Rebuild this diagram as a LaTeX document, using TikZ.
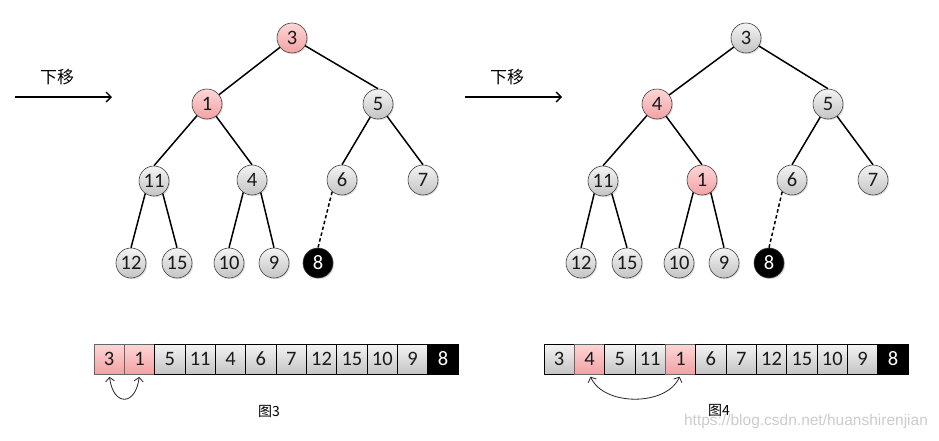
\documentclass[tikz,border=0pt]{standalone}
\usepackage{fontspec}
\setmainfont{Carlito}
\newfontfamily\cjk{Noto Sans CJK SC}
\newfontfamily\wmfont{Liberation Sans}
\usetikzlibrary{shadows,arrows.meta}
\definecolor{gtop}{HTML}{F4F4F4}
\definecolor{gbot}{HTML}{C4C4C4}
\definecolor{ptop}{HTML}{FFD6D6}
\definecolor{pbot}{HTML}{F2A2A4}
\definecolor{txt}{HTML}{1A1A1A}
\begin{document}
\begin{tikzpicture}[x=1pt,y=-1pt,
  base/.style={circle,draw=black!75,line width=0.6pt,minimum size=30pt,inner sep=0pt,
    text=txt,font=\fontsize{20.5}{20.5}\selectfont,
    drop shadow={shadow xshift=1.2pt,shadow yshift=-1.2pt,opacity=0.25}},
  gnode/.style={base,top color=gtop,bottom color=gbot},
  pnode/.style={base,top color=ptop,bottom color=pbot},
  bnode/.style={base,fill=black,text=white},
  edge/.style={line width=1.5pt,black},
  dedge/.style={edge,dash pattern=on 3.5pt off 2.5pt},
  cellbase/.style={rectangle,draw=black,line width=0.8pt,minimum width=30.35pt,minimum height=30pt,
    inner sep=0pt,text=txt,font=\fontsize{20.5}{20.5}\selectfont,
    drop shadow={shadow xshift=1pt,shadow yshift=-1pt,opacity=0.25}},
  gcell/.style={cellbase,top color=gtop,bottom color=gbot},
  pcell/.style={cellbase,draw=black!60,top color=ptop,bottom color=pbot},
  bcell/.style={cellbase,fill=black,text=white},
  swaparrow/.style={line width=0.8pt,black!85,{Straight Barb[length=4pt,width=9pt]}-{Straight Barb[length=4pt,width=9pt]},
    shorten <=2.5pt,shorten >=2.5pt},
  movearrow/.style={line width=1.3pt,black,-{Straight Barb[length=5pt,width=10pt]}},
  movelab/.style={font=\cjk\fontsize{17}{17}\selectfont,text=black},
  figcap/.style={font=\cjk\fontsize{14}{14}\selectfont,text=black}
]
\useasboundingbox (0,0) rectangle (939,440);
\fill[white] (0,0) rectangle (939,440);

% ---------- left tree ----------
\node[pnode] (a1) at (292,38) {3};
\node[pnode] (a2) at (207,104) {1};
\node[gnode] (a3) at (378,104) {5};
\node[gnode] (a4) at (154,181) {11};
\node[gnode] (a5) at (252,180) {4};
\node[gnode] (a6) at (342,180) {6};
\node[gnode] (a7) at (423,180) {7};
\node[gnode] (a8) at (131,263) {12};
\node[gnode] (a9) at (177,263) {15};
\node[gnode] (a10) at (229,263) {10};
\node[gnode] (a11) at (274,263) {9};
\node[bnode] (a12) at (318,263) {8};
\draw[edge] (a1) -- (a2);
\draw[edge] (a1) -- (a3.north);
\draw[edge] (a2) -- (a4.north);
\draw[edge] (a2) -- (a5.north);
\draw[edge] (a3) -- (a6.north);
\draw[edge] (a3) -- (a7.north);
\draw[edge] (a4.235) -- (a8.north);
\draw[edge] (a4.305) -- (a9.north);
\draw[edge] (a5.235) -- (a10.north);
\draw[edge] (a5.305) -- (a11.north);
\draw[dedge] (a6.230) -- (a12.north);

% ---------- right tree ----------
\node[gnode] (b1) at (746,38) {3};
\node[pnode] (b2) at (657,104) {4};
\node[gnode] (b3) at (828,104) {5};
\node[gnode] (b4) at (603,181) {11};
\node[pnode] (b5) at (702,180) {1};
\node[gnode] (b6) at (792,180) {6};
\node[gnode] (b7) at (873,180) {7};
\node[gnode] (b8) at (581,263) {12};
\node[gnode] (b9) at (627,263) {15};
\node[gnode] (b10) at (679,263) {10};
\node[gnode] (b11) at (724,263) {9};
\node[bnode] (b12) at (769,263) {8};
\draw[edge] (b1) -- (b2);
\draw[edge] (b1) -- (b3.north);
\draw[edge] (b2) -- (b4.north);
\draw[edge] (b2) -- (b5.north);
\draw[edge] (b3) -- (b6.north);
\draw[edge] (b3) -- (b7.north);
\draw[edge] (b4.235) -- (b8.north);
\draw[edge] (b4.305) -- (b9.north);
\draw[edge] (b5.235) -- (b10.north);
\draw[edge] (b5.305) -- (b11.north);
\draw[dedge] (b6.230) -- (b12.north);

% ---------- move arrows ----------
\coordinate (s1) at (15,97);
\coordinate (e1) at (112,97);
\coordinate (s2) at (465,97);
\coordinate (e2) at (562,97);
\draw[movearrow] (s1) -- (e1);
\draw[movearrow] (s2) -- (e2);
\node[movelab] (m1) at (57,77) {下移};
\node[movelab] (m2) at (507,77) {下移};

% ---------- arrays ----------
\foreach \v/\s [count=\i] in {3/pcell,1/pcell,5/gcell,11/gcell,4/gcell,6/gcell,7/gcell,12/gcell,15/gcell,10/gcell,9/gcell,8/bcell}
  \node[\s] (c\i) at ({94+(\i-0.5)*30.35},359) {\v};
\foreach \v/\s [count=\i] in {3/gcell,4/pcell,5/gcell,11/gcell,1/pcell,6/gcell,7/gcell,12/gcell,15/gcell,10/gcell,9/gcell,8/bcell}
  \node[\s] (d\i) at ({544+(\i-0.5)*30.35},359) {\v};

\draw[swaparrow] (c1.south) .. controls +(4,32) and +(-4,32) .. (c2.south);
\draw[swaparrow] (d2.south) .. controls +(14,32) and +(-14,32) .. (d5.south);

\node[figcap] (f3) at (269,411) {图3};
\node[figcap] (f4) at (719,410) {图4};
\node[font=\wmfont\fontsize{15.5}{15.5}\selectfont,text=black!20] (wm) at (806,421) {https://blog.csdn.net/huanshirenjian};
\end{tikzpicture}
\end{document}
